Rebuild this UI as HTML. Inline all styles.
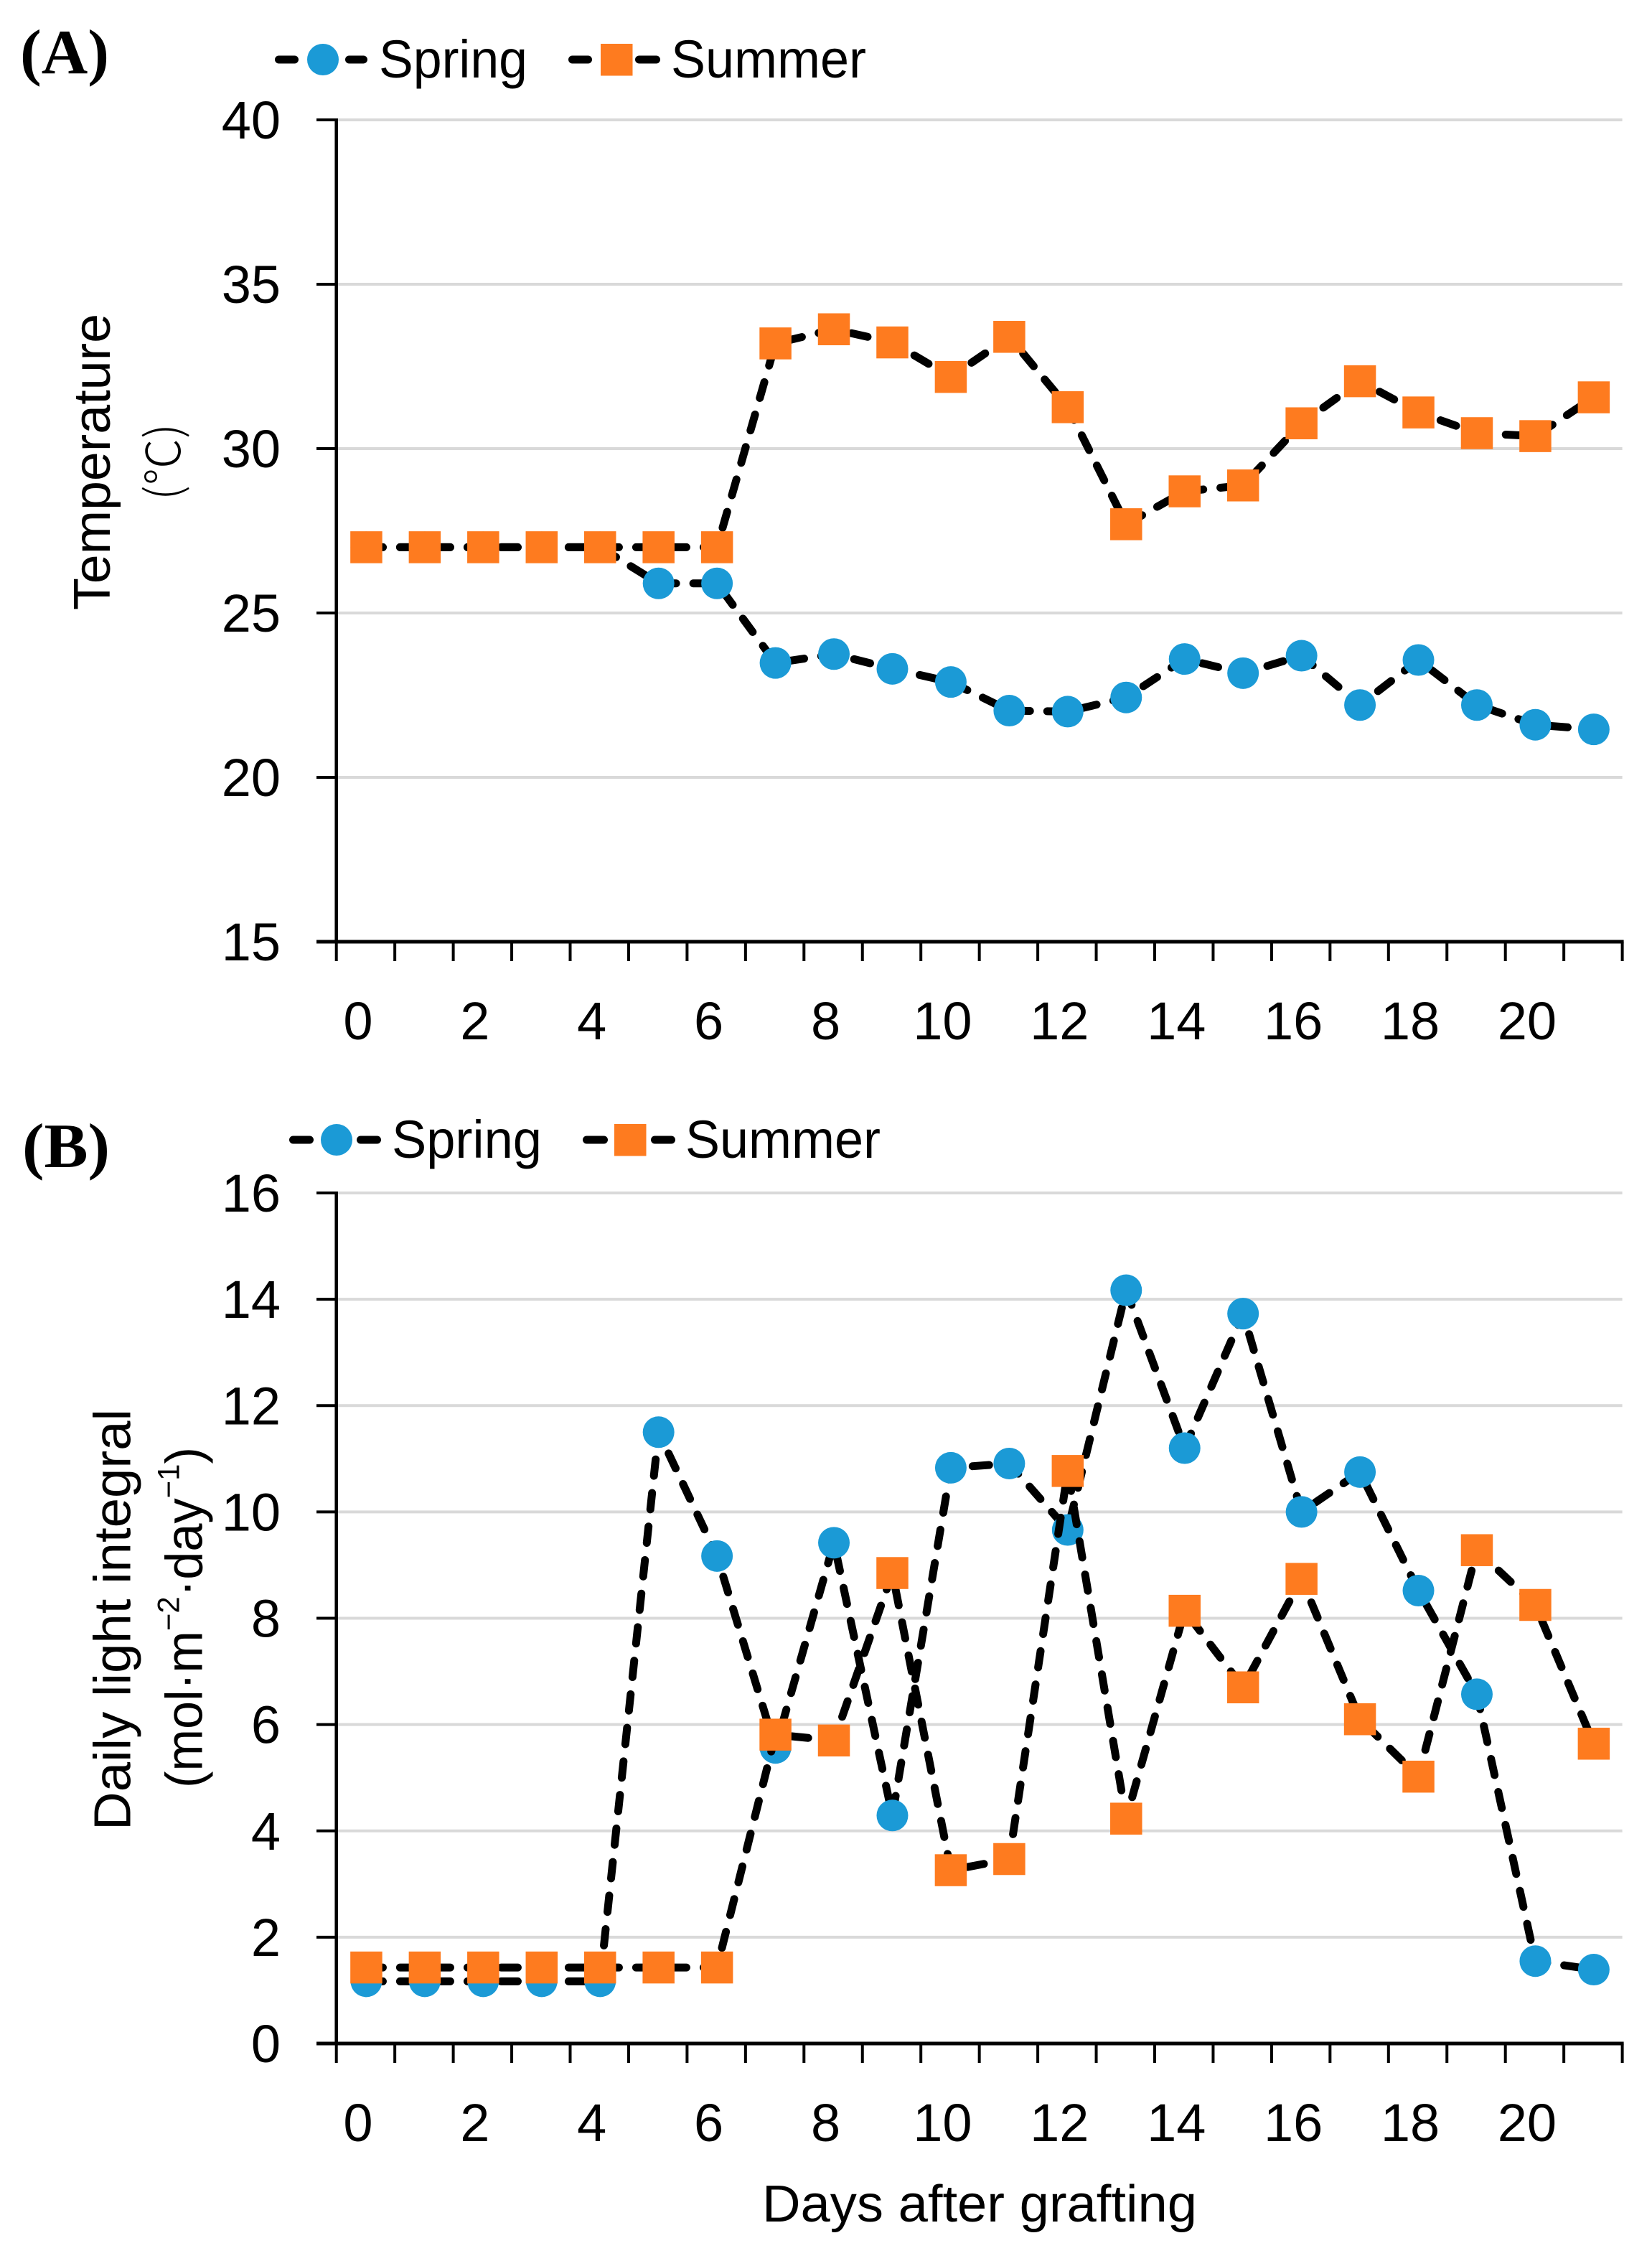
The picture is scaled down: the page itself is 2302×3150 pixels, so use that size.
<!DOCTYPE html>
<html lang="en">
<head>
<meta charset="utf-8">
<title>Temperature and daily light integral after grafting</title>
<style>
html,body{margin:0;padding:0;background:#fff;}
svg{display:block;}
text{font-family:"Liberation Sans","Noto Sans CJK SC",sans-serif;fill:#000;}
.panel{font-family:"Liberation Serif",serif;font-weight:bold;font-size:88px;}
</style>
</head>
<body>
<svg id="chart" xmlns="http://www.w3.org/2000/svg" width="2302" height="3150" viewBox="0 0 2302 3150">
  <rect x="0" y="0" width="2302" height="3150" fill="#fff"/>
  <text class="panel" style="font-family:'Liberation Serif',serif" x="28" y="102" textLength="124" lengthAdjust="spacingAndGlyphs">(A)</text>
  <text class="panel" style="font-family:'Liberation Serif',serif" x="31" y="1626" textLength="122" lengthAdjust="spacingAndGlyphs">(B)</text>

  <g>
    <rect x="383" y="77.5" width="33" height="11" rx="5.5" fill="#000"/>
    <rect x="481" y="77.5" width="31" height="11" rx="5.5" fill="#000"/>
    <circle cx="450" cy="83" r="22" fill="#1b9ad6"/>
    <text x="528" y="108" font-size="74" textLength="207" lengthAdjust="spacingAndGlyphs">Spring</text>
    <rect x="792" y="77.5" width="33" height="11" rx="5.5" fill="#000"/>
    <rect x="885" y="77.5" width="35" height="11" rx="5.5" fill="#000"/>
    <rect x="837" y="61" width="44.5" height="44.5" fill="#fe7b1f"/>
    <text x="935" y="108" font-size="74" textLength="272" lengthAdjust="spacingAndGlyphs">Summer</text>
  </g>

  <g>
    <rect x="403" y="1582.5" width="34" height="11" rx="5.5" fill="#000"/>
    <rect x="497" y="1582.5" width="34" height="11" rx="5.5" fill="#000"/>
    <circle cx="469" cy="1588" r="22" fill="#1b9ad6"/>
    <text x="546" y="1613" font-size="74" textLength="209" lengthAdjust="spacingAndGlyphs">Spring</text>
    <rect x="812" y="1582.5" width="35" height="11" rx="5.5" fill="#000"/>
    <rect x="907" y="1582.5" width="34" height="11" rx="5.5" fill="#000"/>
    <rect x="856" y="1566" width="44.5" height="44.5" fill="#fe7b1f"/>
    <text x="955" y="1613" font-size="74" textLength="272" lengthAdjust="spacingAndGlyphs">Summer</text>
  </g>

  <text transform="translate(153,850) rotate(-90)" font-size="72" textLength="413" lengthAdjust="spacingAndGlyphs">Temperature</text>
  <text transform="translate(251,697) rotate(-90)" font-size="66" textLength="107" lengthAdjust="spacingAndGlyphs" style="font-family:'Noto Sans CJK JP','Liberation Sans',sans-serif;font-weight:300">(℃)</text>
  <text transform="translate(181.7,2550) rotate(-90)" font-size="72" textLength="587" lengthAdjust="spacingAndGlyphs">Daily light integral</text>
  <text transform="translate(281.7,2491) rotate(-90)" font-size="72" textLength="475" lengthAdjust="spacingAndGlyphs">(mol·m<tspan font-size="43" dy="-32">−2</tspan><tspan dy="32">·day</tspan><tspan font-size="43" dy="-32">−1</tspan><tspan dy="32">)</tspan></text>
  <text x="1062" y="3095" font-size="72" textLength="606" lengthAdjust="spacingAndGlyphs">Days after grafting</text>

  <g id="plots"></g>
</svg>

<script>
const days = [0,1,2,3,4,5,6,7,8,9,10,11,12,13,14,15,16,17,18,19,20,21];
const xTickLabels = [0,2,4,6,8,10,12,14,16,18,20];
const tempTicks = [15,20,25,30,35,40];
const dliTicks = [0,2,4,6,8,10,12,14,16];

const springTemp = [27,27,27,27,27,25.9,25.9,23.48,23.75,23.3,22.9,22.03,22.0,22.43,23.6,23.17,23.7,22.2,23.57,22.2,21.6,21.46];
const summerTemp = [27,27,27,27,27,27,27,33.2,33.63,33.23,32.18,33.4,31.26,27.7,28.7,28.88,30.77,32.05,31.1,30.47,30.38,31.56];
const springDli = [1.17,1.17,1.17,1.17,1.17,11.5,9.17,5.56,9.42,4.29,10.83,10.91,9.66,14.17,11.2,13.73,10.0,10.75,8.52,6.57,1.55,1.39];
const summerDli = [1.43,1.43,1.43,1.43,1.43,1.43,1.43,5.81,5.7,8.85,3.26,3.47,10.77,4.23,8.14,6.7,8.74,6.1,5.02,9.28,8.25,5.64];

const NS = 'http://www.w3.org/2000/svg';
const plots = document.getElementById('plots');
const axisLeft = 468.7;
const axisRight = 2260.6;

function make(tag, parent, attrs, name) {
  const el = document.createElementNS(NS, tag);
  for (const k in attrs) el.setAttribute(k, attrs[k]);
  
  
  parent.appendChild(el);
  return el;
}

function xScale(day) {
  return 1 + axisLeft + (axisRight - axisLeft) * (day + 0.5) / days.length;
}

function drawPanel(id, yTicks, yTop, yBottom, spring, summer) {
  const yMin = yTicks[0];
  const yMax = yTicks[yTicks.length - 1];
  const yScale = v => yBottom - (v - yMin) * (yBottom - yTop) / (yMax - yMin);
  const g = make('g', plots, {}, id + '-plot');

  yTicks.forEach(t => {
    const y = yScale(t);
    if (t !== yMin) {
      make('line', g, {x1: axisLeft, x2: axisRight, y1: y, y2: y, stroke: '#d9d9d9', 'stroke-width': 4}, id + '-gridline-' + t);
    }
    make('line', g, {x1: 441, x2: axisLeft, y1: y, y2: y, stroke: '#000', 'stroke-width': 4}, id + '-y-tick-' + t);
    const label = make('text', g, {x: 391, y: y + 26, 'font-size': 74, 'text-anchor': 'end'}, id + '-y-tick-label-' + t);
    label.textContent = t;
  });

  make('line', g, {x1: axisLeft, x2: axisLeft, y1: yTop - 2, y2: yBottom, stroke: '#000', 'stroke-width': 4.5}, id + '-y-axis-line');
  make('line', g, {x1: 441, x2: axisRight + 2, y1: yBottom, y2: yBottom, stroke: '#000', 'stroke-width': 5}, id + '-x-axis-line');

  for (let i = 0; i <= days.length; i++) {
    const x = axisLeft + (axisRight - axisLeft) * i / days.length;
    make('line', g, {x1: x, x2: x, y1: yBottom, y2: yBottom + 27, stroke: '#000', 'stroke-width': 4}, id + '-x-tick-' + i);
  }
  xTickLabels.forEach(d => {
    const label = make('text', g, {x: xScale(d) - 11.5, y: yBottom + 136, 'font-size': 74, 'text-anchor': 'middle'}, id + '-x-tick-label-' + d);
    label.textContent = d;
  });

  const linePoints = vals => vals.map((v, i) => xScale(days[i]) + ',' + yScale(v)).join(' ');
  const lineStyle = {fill: 'none', stroke: '#000', 'stroke-width': 11, 'stroke-linecap': 'round', 'stroke-linejoin': 'round', 'stroke-dasharray': '23 24'};

  make('polyline', g, Object.assign({points: linePoints(spring)}, lineStyle), id + '-spring-line');
  spring.forEach((v, i) => {
    make('circle', g, {cx: xScale(days[i]), cy: yScale(v), r: 22, fill: '#1b9ad6'}, id + '-spring-point-' + days[i]);
  });

  make('polyline', g, Object.assign({points: linePoints(summer)}, lineStyle), id + '-summer-line');
  summer.forEach((v, i) => {
    make('rect', g, {x: xScale(days[i]) - 22.25, y: yScale(v) - 22.25, width: 44.5, height: 44.5, fill: '#fe7b1f'}, id + '-summer-point-' + days[i]);
  });
}

drawPanel('temperature', tempTicks, 167, 1312, springTemp, summerTemp);
drawPanel('dli', dliTicks, 1662, 2847, springDli, summerDli);
</script>
</body>
</html>
